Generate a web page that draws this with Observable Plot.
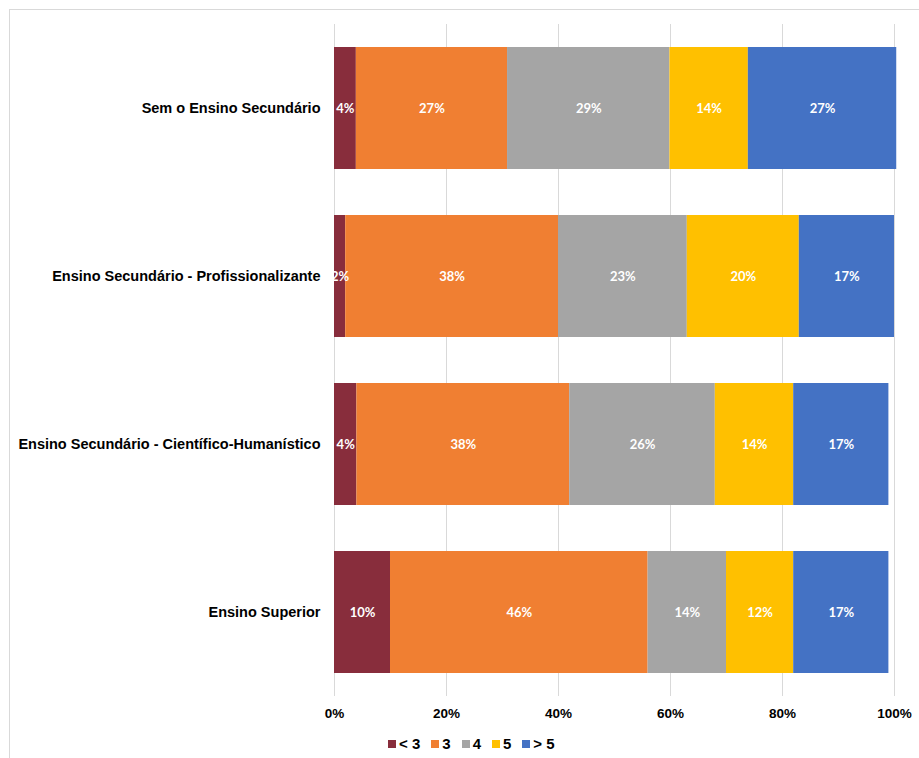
<!DOCTYPE html>
<html>
<head>
<meta charset="utf-8">
<script src="https://cdn.jsdelivr.net/npm/d3@7"></script>
<script src="https://cdn.jsdelivr.net/npm/@observablehq/plot@0.6"></script>
<style>
  html, body { margin: 0; padding: 0; background: #fff; }
  body { width: 919px; height: 758px; position: relative; overflow: hidden; font-family: "Liberation Sans", Arial, sans-serif; }
  #frame { position: absolute; left: 9px; top: 9px; width: 930px; height: 780px; border: 1px solid #d9d9d9; box-sizing: border-box; }
  #chart { position: absolute; left: 0; top: 0; }
  #legend { position: absolute; top: 735px; left: 388px; display: flex; gap: 11px; font: bold 15px/17px "Liberation Sans", Arial, sans-serif; color: #000; }
  #legend .item { display: flex; align-items: center; gap: 3px; }
  #legend .sw { width: 8px; height: 8px; display: inline-block; }
</style>
</head>
<body>
<div id="frame"></div>
<div id="chart"></div>
<div id="legend"></div>
<script>
const categories = [
  "Sem o Ensino Secundário",
  "Ensino Secundário - Profissionalizante",
  "Ensino Secundário - Científico-Humanístico",
  "Ensino Superior"
];
const seriesNames = ["< 3", "3", "4", "5", "> 5"];
const colors = ["#882D3C", "#F07F32", "#A5A5A5", "#FFC000", "#4472C4"];
// percentages per category, in series order
const semSecundario = [3.9, 27.0, 29.0, 14.0, 26.5];
const profissionalizante = [2.0, 38.0, 23.0, 20.0, 17.0];
const cientifico = [4.0, 38.0, 26.0, 14.0, 17.0];
const superior = [10.0, 46.0, 14.0, 12.0, 17.0];
const xTicks = [0, 0.2, 0.4, 0.6, 0.8, 1.0];

const rows = [semSecundario, profissionalizante, cientifico, superior];
const data = [];
categories.forEach((c, i) => {
  let acc = 0;
  rows[i].forEach((v, j) => {
    data.push({cat: c, series: seriesNames[j], value: v / 100, x1: acc / 100, x2: (acc + v) / 100, label: Math.round(v) + "%"});
    acc += v;
  });
});

const chart = Plot.plot({
  width: 919,
  height: 726,
  marginLeft: 334,
  marginRight: 25,
  marginTop: 24,
  marginBottom: 30,
  style: {background: "transparent", fontFamily: "'Liberation Sans', Arial, sans-serif"},
  x: {domain: [0, 1], ticks: xTicks, tickFormat: d => Math.round(d * 100) + "%"},
  y: {domain: categories, paddingInner: 0.274, paddingOuter: 0.137},
  color: {domain: seriesNames, range: colors},
  marks: [
    Plot.gridX(xTicks, {stroke: "#d9d9d9", strokeOpacity: 1, strokeWidth: 1}),
    Plot.barX(data, {y: "cat", x1: "x1", x2: "x2", fill: "series"}),
    Plot.text(data, {y: "cat", x: d => (d.x1 + d.x2) / 2, text: "label", fill: "white", fontWeight: "bold", fontSize: 13, fontFamily: "Lato, 'Open Sans', sans-serif"}),
    Plot.axisX({ticks: xTicks, tickSize: 0, tickPadding: 12, fontSize: 13.5, fontWeight: "bold", tickFormat: d => Math.round(d * 100) + "%", label: null, fill: "#000"}),
    Plot.axisY({tickSize: 0, tickPadding: 14, fontSize: 14.5, fontWeight: "bold", label: null, fill: "#000"})
  ]
});
document.getElementById("chart").appendChild(chart);

const legend = document.getElementById("legend");
seriesNames.forEach((s, i) => {
  const item = document.createElement("span");
  item.className = "item";
  const sw = document.createElement("span");
  sw.className = "sw";
  sw.style.background = colors[i];
  item.appendChild(sw);
  item.appendChild(document.createTextNode(s));
  legend.appendChild(item);
});
</script>
</body>
</html>
